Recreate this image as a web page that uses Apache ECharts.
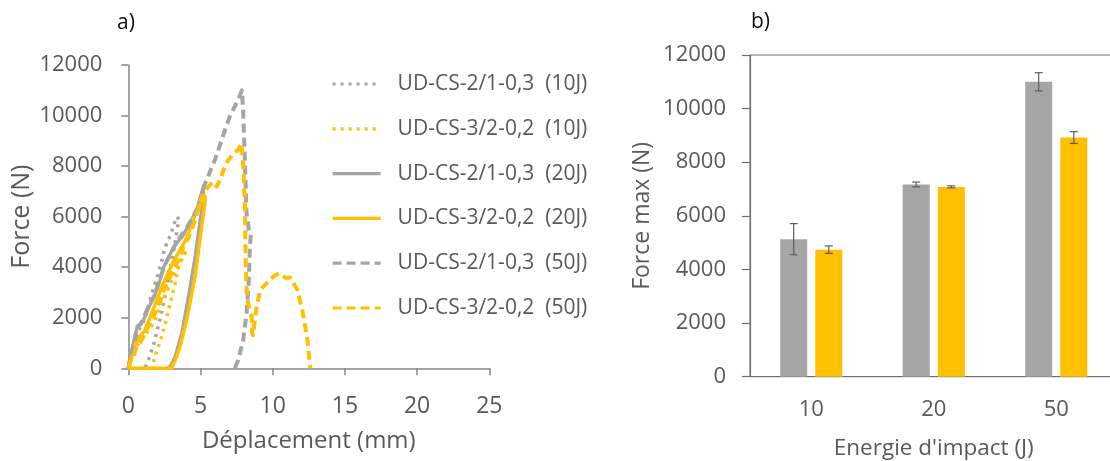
<!DOCTYPE html>
<html><head><meta charset="utf-8">
<script src="https://cdn.jsdelivr.net/npm/echarts@6/dist/echarts.min.js"></script>
<style>html,body{margin:0;padding:0;background:#fff}#c{width:1110px;height:461px}</style>
</head><body><div id="c"></div>
<script>
// ---------- Data: panel a) force (N) vs displacement (mm) ----------
const seriesNames = [
  'UD-CS-2/1-0,3  (10J)', 'UD-CS-3/2-0,2  (10J)',
  'UD-CS-2/1-0,3  (20J)', 'UD-CS-3/2-0,2  (20J)',
  'UD-CS-2/1-0,3  (50J)', 'UD-CS-3/2-0,2  (50J)'
];
const gray10J = [[0,0],[0.15,400],[0.4,850],[0.7,1500],[0.9,1700],[1.1,1900],[1.32,2300],[1.6,2900],[2.0,3600],[2.3,4200],[2.5,4700],[2.7,5000],[2.95,5300],[3.16,5700],[3.39,6000],[3.5,5870],[3.3,5200],[3.1,4500],[2.9,3900],[2.7,3350],[2.45,2600],[2.24,2050],[2.0,1500],[1.78,1000],[1.5,500],[1.2,60],[1.16,0]];
const yellow10J = [[0,0],[0.2,350],[0.5,800],[0.8,1050],[1.1,1250],[1.4,1500],[1.7,1750],[2.0,2100],[2.3,2550],[2.6,2950],[2.9,3350],[3.2,3750],[3.5,4100],[3.8,4400],[4.05,4700],[4.15,4650],[3.95,4600],[3.7,4350],[3.5,4080],[3.28,3430],[2.93,2640],[2.59,1840],[2.24,1120],[1.9,560],[1.66,100],[1.62,0]];
const gray20J = [[0,0],[0.1,350],[0.3,900],[0.6,1600],[0.9,1750],[1.2,2100],[1.5,2500],[1.8,2850],[2.1,3300],[2.45,4000],[2.8,4400],[3.15,4800],[3.5,5050],[3.8,5250],[4.1,5600],[4.4,5900],[4.75,6300],[5.0,6800],[5.2,7200],[5.3,7150],[5.2,6700],[4.98,5900],[4.63,4440],[4.17,2850],[3.7,1400],[3.24,460],[2.9,80],[2.72,0]];
const yellow20J = [[0,0],[0.25,500],[0.5,1000],[0.8,1250],[1.1,1450],[1.5,2000],[1.9,2600],[2.3,3200],[2.7,3700],[3.1,4200],[3.5,4600],[3.9,5000],[4.2,5400],[4.5,5900],[4.8,6300],[5.1,6600],[5.32,6800],[5.3,6500],[5.08,5600],[4.62,3620],[4.04,1910],[3.6,900],[3.35,460],[3.0,0],[0,0]];
const gray50J = [[0,0],[0.1,300],[0.4,1000],[0.62,1650],[0.85,1750],[1.09,2050],[1.4,2450],[1.78,2850],[2.1,3400],[2.47,4000],[2.8,4400],[3.16,4800],[3.6,5200],[4.08,5600],[4.5,6000],[4.8,6350],[5.1,6900],[5.31,7300],[5.6,7700],[6.0,8250],[6.46,9030],[6.8,9600],[7.06,10000],[7.41,10400],[7.64,10670],[7.87,11000],[7.96,10100],[8.08,8100],[8.19,6130],[8.35,5470],[8.49,5340],[8.42,4800],[8.35,3500],[8.19,2180],[7.96,1120],[7.61,330],[7.38,0]];
const yellow50J = [[0,0],[0.2,350],[0.39,530],[0.58,860],[0.8,1000],[1.09,1300],[1.4,1700],[1.74,2050],[1.9,2240],[2.2,2650],[2.47,3100],[2.8,3500],[3.16,3950],[3.6,4400],[3.82,4840],[4.1,5100],[4.4,5500],[4.7,6000],[4.98,6560],[5.2,6900],[5.54,7190],[5.88,7380],[6.12,7190],[6.35,7450],[6.6,7850],[6.92,8240],[7.3,8500],[7.61,8640],[7.85,8900],[7.96,7980],[8.08,6400],[8.12,4420],[8.19,3100],[8.3,2570],[8.54,2040],[8.58,1380],[8.63,1300],[8.89,2440],[9.14,3110],[9.34,3230],[9.6,3380],[10.07,3640],[10.42,3750],[10.88,3580],[11.23,3580],[11.7,3110],[12.04,2320],[12.38,1260],[12.6,0]];

// ---------- Data: panel b) max force per impact energy ----------
const energyCategories = ['10', '20', '50'];
const maxForceGray = [5130, 7170, 11000];
const errGray = [580, 90, 340];
const maxForceYellow = [4740, 7080, 8920];
const errYellow = [140, 40, 220];

// ---------- Styles ----------
const GRAY = '#A5A5A5', YELLOW = '#FFC000', TXT = '#595959';
const FONT = 'Open Sans';
const BAR_W = 27, BAR_GAP = '30%';
const DOT = [3, 5], DASH = [9, 5];
const plain = v => String(v);

const lineDefs = [
  {data: gray10J,   color: GRAY,   type: DOT,     width: 3.5},
  {data: yellow10J, color: YELLOW, type: DOT,     width: 3.5},
  {data: gray20J,   color: GRAY,   type: 'solid', width: 3.2},
  {data: yellow20J, color: YELLOW, type: 'solid', width: 3.5},
  {data: gray50J,   color: GRAY,   type: DASH,    width: 4},
  {data: yellow50J, color: YELLOW, type: DASH,    width: 4}
];

const lineSeries = lineDefs.map((d, i) => ({
  name: seriesNames[i], type: 'line', xAxisIndex: 0, yAxisIndex: 0,
  data: d.data, showSymbol: false, symbol: 'none', smooth: false,
  animation: false, color: d.color,
  lineStyle: {color: d.color, width: d.width, type: d.type, cap: 'butt', join: 'round'}
}));

function errRenderer(k) {
  return function (params, api) {
    const cat = api.value(0), lo = api.value(1), hi = api.value(2);
    let off;
    const lay = api.barLayout ? api.barLayout({count: 2, barWidth: BAR_W, barGap: BAR_GAP}) : null;
    if (lay && lay[k] && lay[k].offsetCenter != null) off = lay[k].offsetCenter;
    else off = (k === 0 ? -1 : 1) * (BAR_W * 1.3) / 2;
    const a = api.coord([cat, lo]), b = api.coord([cat, hi]);
    const x = a[0] + off, cap = 4;
    const st = {stroke: '#5e5e5e', lineWidth: 1.2};
    return {type: 'group', children: [
      {type: 'line', shape: {x1: x, y1: b[1], x2: x, y2: a[1]}, style: st},
      {type: 'line', shape: {x1: x - cap, y1: b[1], x2: x + cap, y2: b[1]}, style: st},
      {type: 'line', shape: {x1: x - cap, y1: a[1], x2: x + cap, y2: a[1]}, style: st}
    ]};
  };
}
const errDataGray = energyCategories.map((c, i) => [i, maxForceGray[i] - errGray[i], maxForceGray[i] + errGray[i]]);
const errDataYellow = energyCategories.map((c, i) => [i, maxForceYellow[i] - errYellow[i], maxForceYellow[i] + errYellow[i]]);

const chart = echarts.init(document.getElementById('c'), null, {renderer: 'canvas'});
chart.setOption({
  animation: false,
  textStyle: {fontFamily: FONT},
  graphic: [
    {type: 'text', left: 117, top: 13, style: {text: 'a)', fontSize: 21, fill: '#111', fontFamily: FONT}},
    {type: 'text', left: 751, top: 12, style: {text: 'b)', fontSize: 21, fill: '#111', fontFamily: FONT}}
  ],
  legend: {
    data: seriesNames, orient: 'vertical', left: 331, top: 73.5, padding: 0,
    itemWidth: 48, itemHeight: 14, itemGap: 23.8,
    itemStyle: {opacity: 0, borderWidth: 0},
    lineStyle: {width: 3.2},
    textStyle: {color: TXT, fontSize: 21, fontFamily: FONT, padding: [0, 0, 0, 12]},
    selectedMode: false
  },
  grid: [
    {left: 128.3, top: 65, width: 361, height: 303.3, outerBoundsMode: 'none', containLabel: false},
    {left: 750, top: 55, width: 367.5, height: 321.7, outerBoundsMode: 'none', containLabel: false,
     show: true, borderColor: '#6e6e6e', borderWidth: 1}
  ],
  xAxis: [
    {type: 'value', gridIndex: 0, min: 0, max: 25, interval: 5,
     name: 'Déplacement (mm)', nameLocation: 'middle', nameGap: 61,
     nameTextStyle: {color: TXT, fontSize: 24, fontFamily: FONT},
     axisLine: {show: true, lineStyle: {color: '#868686', width: 1.5}},
     axisTick: {show: true, length: 7, lineStyle: {color: '#868686', width: 1.5}},
     axisLabel: {color: TXT, fontSize: 23, margin: 27, fontFamily: FONT, formatter: plain},
     splitLine: {show: false}},
    {type: 'category', gridIndex: 1, data: energyCategories,
     name: "Energie d'impact (J)", nameLocation: 'middle', nameGap: 60,
     nameTextStyle: {color: TXT, fontSize: 22.5, fontFamily: FONT},
     axisLine: {show: true, lineStyle: {color: '#6e6e6e', width: 1.2}},
     axisTick: {show: false},
     axisLabel: {color: TXT, fontSize: 22, margin: 22, fontFamily: FONT},
     splitLine: {show: false}}
  ],
  yAxis: [
    {type: 'value', gridIndex: 0, min: 0, max: 12000, interval: 2000,
     name: 'Force (N)', nameLocation: 'middle', nameGap: 94,
     nameTextStyle: {color: TXT, fontSize: 25, fontFamily: FONT},
     axisLine: {show: true, lineStyle: {color: '#868686', width: 1.5}},
     axisTick: {show: true, length: 7, lineStyle: {color: '#868686', width: 1.5}},
     axisLabel: {color: TXT, fontSize: 22, margin: 26, fontFamily: FONT, formatter: plain},
     splitLine: {show: false}},
    {type: 'value', gridIndex: 1, min: 0, max: 12000, interval: 2000,
     name: 'Force max (N)', nameLocation: 'middle', nameGap: 96,
     nameTextStyle: {color: TXT, fontSize: 23, fontFamily: FONT},
     axisLine: {show: true, lineStyle: {color: '#6e6e6e', width: 1.2}},
     axisTick: {show: true, length: 8, lineStyle: {color: '#6e6e6e', width: 1.2}},
     axisLabel: {color: TXT, fontSize: 22, margin: 24, fontFamily: FONT, formatter: plain},
     splitLine: {show: false}}
  ],
  series: lineSeries.concat([
    {type: 'bar', name: 'barGray', xAxisIndex: 1, yAxisIndex: 1, data: maxForceGray,
     barWidth: BAR_W, barGap: BAR_GAP, itemStyle: {color: GRAY}},
    {type: 'bar', name: 'barYellow', xAxisIndex: 1, yAxisIndex: 1, data: maxForceYellow,
     barWidth: BAR_W, barGap: BAR_GAP, itemStyle: {color: YELLOW}},
    {type: 'custom', name: 'errGray', xAxisIndex: 1, yAxisIndex: 1, data: errDataGray,
     encode: {x: 0, y: [1, 2]}, renderItem: errRenderer(0), z: 5},
    {type: 'custom', name: 'errYellow', xAxisIndex: 1, yAxisIndex: 1, data: errDataYellow,
     encode: {x: 0, y: [1, 2]}, renderItem: errRenderer(1), z: 5}
  ])
});
</script>
</body></html>
